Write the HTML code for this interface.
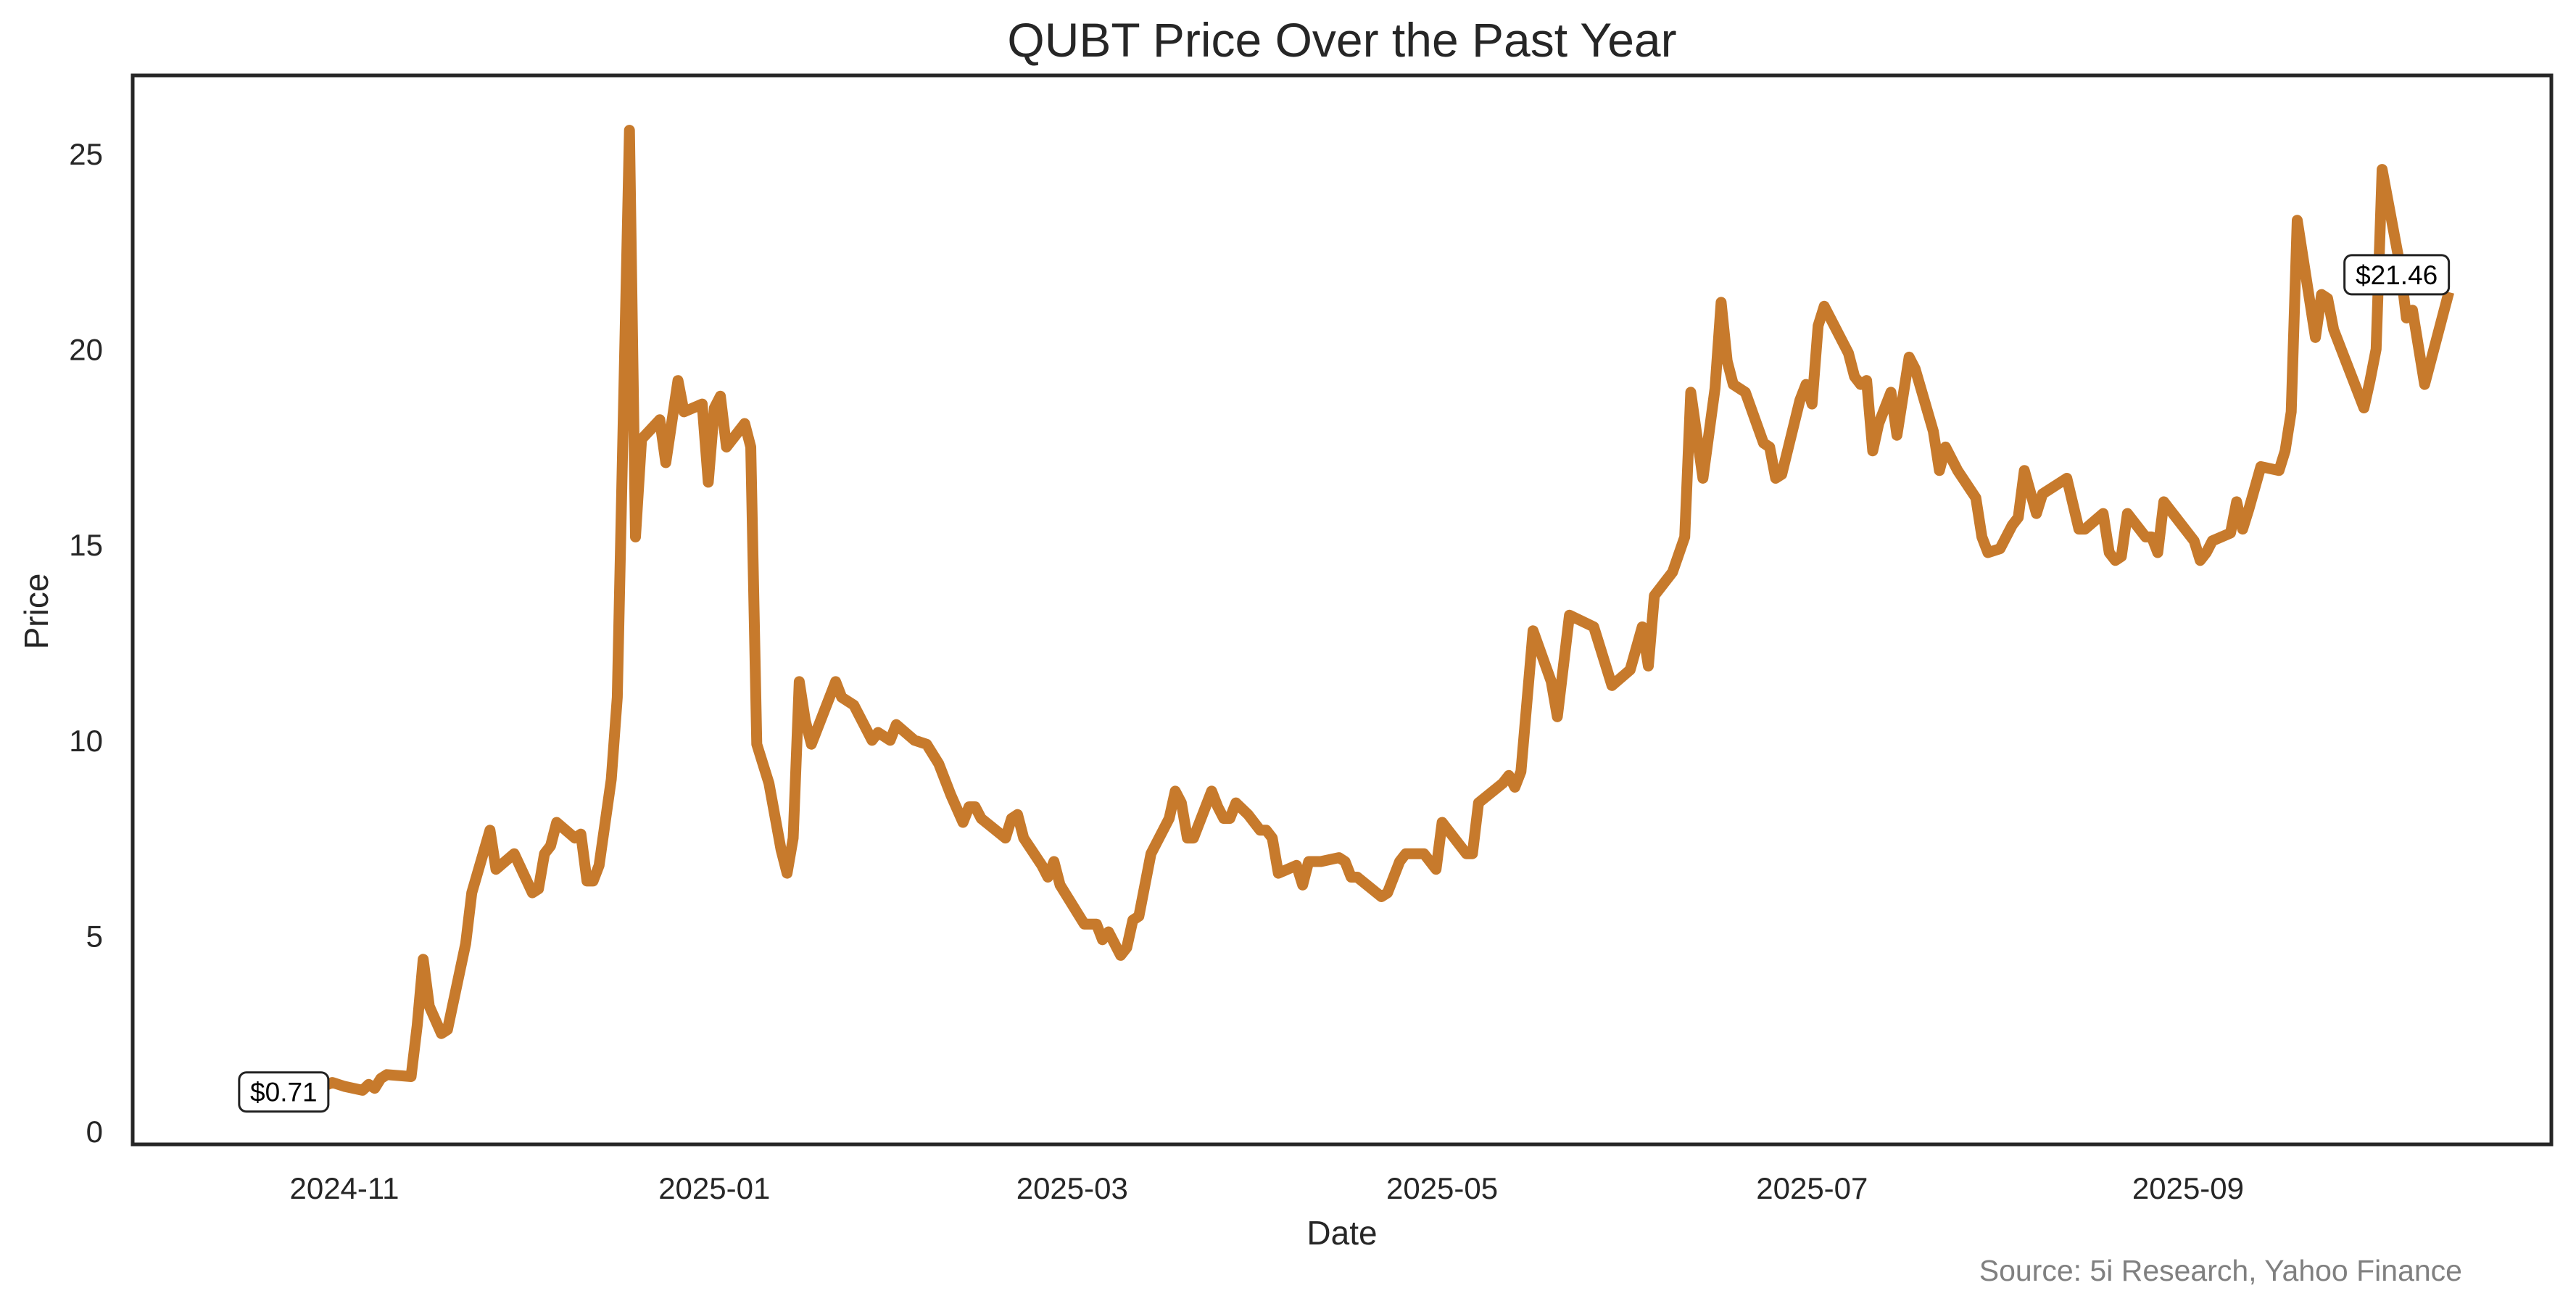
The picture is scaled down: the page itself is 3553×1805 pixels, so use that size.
<!DOCTYPE html>
<html><head><meta charset="utf-8"><style>
html,body{margin:0;padding:0;background:#fff}
svg{display:block}
text{font-family:"Liberation Sans",Arial,sans-serif}
</style></head><body>
<svg id="chart" width="3553" height="1805" viewBox="0 0 3553 1805" xmlns="http://www.w3.org/2000/svg">
<rect width="3553" height="1805" fill="#fff"/>
<text x="1851" y="78" font-size="66" text-anchor="middle" fill="#262626">QUBT Price Over the Past Year</text>
<g id="ticks"></g>
<path id="series" fill="none" stroke="#c77a2c" stroke-width="15" stroke-linejoin="round" stroke-linecap="butt"/>
<g id="labels"></g>
<rect x="183" y="104" width="3336" height="1474" fill="none" stroke="#262626" stroke-width="5"/>
<text x="1851" y="1716" font-size="46" text-anchor="middle" fill="#262626">Date</text>
<text x="66" y="843" font-size="46" text-anchor="middle" fill="#262626" transform="rotate(-90 66 843)">Price</text>
<text x="3396" y="1766" font-size="41" text-anchor="end" fill="#808080">Source: 5i Research, Yahoo Finance</text>
</svg>
<script>
const days = [-10,-2,0,3,4,5,6,7,11,12,13,14,16,17,20,21,24,25,28,31,32,33,34,35,38,39,40,41,42,44,45,47,48,49,52,53,55,56,59,60,61,62,63,66,67,68,70,72,73,74,75,76,77,81,82,84,87,88,90,91,94,96,98,100,102,103,104,105,109,110,111,112,115,116,117,118,122,124,125,126,128,129,130,131,133,136,137,138,139,140,143,144,145,146,147,149,151,152,153,154,157,158,159,161,164,165,166,167,171,172,174,175,178,180,181,185,186,187,191,192,193,194,196,199,200,202,206,207,209,212,214,215,216,219,221,222,224,226,227,228,229,231,234,235,236,237,240,241,242,243,244,248,249,250,251,252,253,255,256,258,259,262,263,264,266,269,270,271,273,275,276,277,279,280,284,286,287,290,291,292,293,294,297,298,299,300,302,305,306,307,308,311,312,313,314,316,319,320,321,322,325,326,327,328,333,334,335,336,339,340,341,343,347];
const prices = [0.71,1.25,1.15,1.05,1.2,1.1,1.35,1.45,1.4,2.7,4.4,3.2,2.5,2.6,4.8,6.1,7.7,6.7,7.1,6.1,6.2,7.1,7.3,7.9,7.5,7.6,6.4,6.4,6.8,9.0,11.1,25.6,15.2,17.7,18.2,17.1,19.2,18.4,18.6,16.6,18.5,18.8,17.5,18.1,17.5,9.9,8.9,7.2,6.6,7.5,11.5,10.5,9.9,11.5,11.1,10.9,10.0,10.2,10.0,10.4,10.0,9.9,9.4,8.6,7.9,8.3,8.3,8.0,7.5,8.0,8.1,7.5,6.8,6.5,6.9,6.3,5.3,5.3,4.9,5.1,4.5,4.7,5.4,5.5,7.1,8.0,8.7,8.4,7.5,7.5,8.7,8.3,8.0,8.0,8.4,8.1,7.7,7.7,7.5,6.6,6.8,6.3,6.9,6.9,7.0,6.9,6.5,6.5,6.0,6.1,6.9,7.1,7.1,6.7,7.9,7.1,7.1,8.4,8.9,9.1,8.8,9.2,12.8,11.5,10.6,13.2,12.9,12.4,11.4,11.8,12.9,11.9,13.7,14.3,15.2,18.9,16.7,19.0,21.2,19.7,19.1,18.9,17.6,17.5,16.7,16.8,18.7,19.1,18.6,20.6,21.1,19.9,19.3,19.1,19.2,17.4,18.1,18.9,17.8,19.8,19.5,17.9,16.9,17.5,16.9,16.2,15.2,14.8,14.9,15.5,15.7,16.9,15.8,16.3,16.7,15.4,15.4,15.8,14.8,14.6,14.7,15.8,15.2,15.2,14.8,16.1,15.7,15.1,14.6,14.8,15.1,15.3,16.1,15.4,15.9,17.0,16.9,17.4,18.4,23.3,20.3,21.4,21.3,20.5,18.5,19.2,20.0,24.6,22.1,20.8,21.0,19.1,21.46];
const yTicks = [0,5,10,15,20,25];
const xTickLabels = ["2024-11","2025-01","2025-03","2025-05","2025-07","2025-09"];
const xTickDays = [0,61,120,181,242,304];
const firstLabel = "$0.71";
const lastLabel = "$21.46";

const NS = "http://www.w3.org/2000/svg";
function xs(d){ return 475 + d*8.365; }
function ys(v){ return 1560 - v*(1348/25); }

const tg = document.getElementById('ticks');
yTicks.forEach(v=>{
  const t = document.createElementNS(NS,'text');
  
  
  t.setAttribute('x',142); t.setAttribute('y',ys(v)+15);
  t.setAttribute('font-size','42'); t.setAttribute('text-anchor','end'); t.setAttribute('fill','#262626');
  t.textContent = v; tg.appendChild(t);
});
xTickLabels.forEach((lab,i)=>{
  const t = document.createElementNS(NS,'text');
  
  
  t.setAttribute('x',xs(xTickDays[i])); t.setAttribute('y',1653);
  t.setAttribute('font-size','42'); t.setAttribute('text-anchor','middle'); t.setAttribute('fill','#262626');
  t.textContent = lab; tg.appendChild(t);
});

let dstr = '';
days.forEach((d,i)=>{ dstr += (i?'L':'M') + xs(d).toFixed(1) + ' ' + ys(prices[i]).toFixed(1); });
document.getElementById('series').setAttribute('d', dstr);

const lg = document.getElementById('labels');
function addLabel(text, cx, cy, name){
  const g = document.createElementNS(NS,'g');
  
  
  const w = text.length*21+18, h = 54;
  const r = document.createElementNS(NS,'rect');
  r.setAttribute('x',cx-w/2); r.setAttribute('y',cy-h/2); r.setAttribute('width',w); r.setAttribute('height',h);
  r.setAttribute('rx',10); r.setAttribute('fill','#fff'); r.setAttribute('stroke','#222'); r.setAttribute('stroke-width','3');
  const t = document.createElementNS(NS,'text');
  t.setAttribute('x',cx); t.setAttribute('y',cy+13); t.setAttribute('font-size','37');
  t.setAttribute('text-anchor','middle'); t.setAttribute('fill','#000');
  t.textContent = text;
  g.appendChild(r); g.appendChild(t); lg.appendChild(g);
}
const n = days.length-1;
addLabel(firstLabel, xs(days[0]), ys(prices[0])-16, 'first-price-label');
addLabel(lastLabel, xs(days[n])-72, ys(prices[n])-24, 'last-price-label');
</script>
</body></html>
